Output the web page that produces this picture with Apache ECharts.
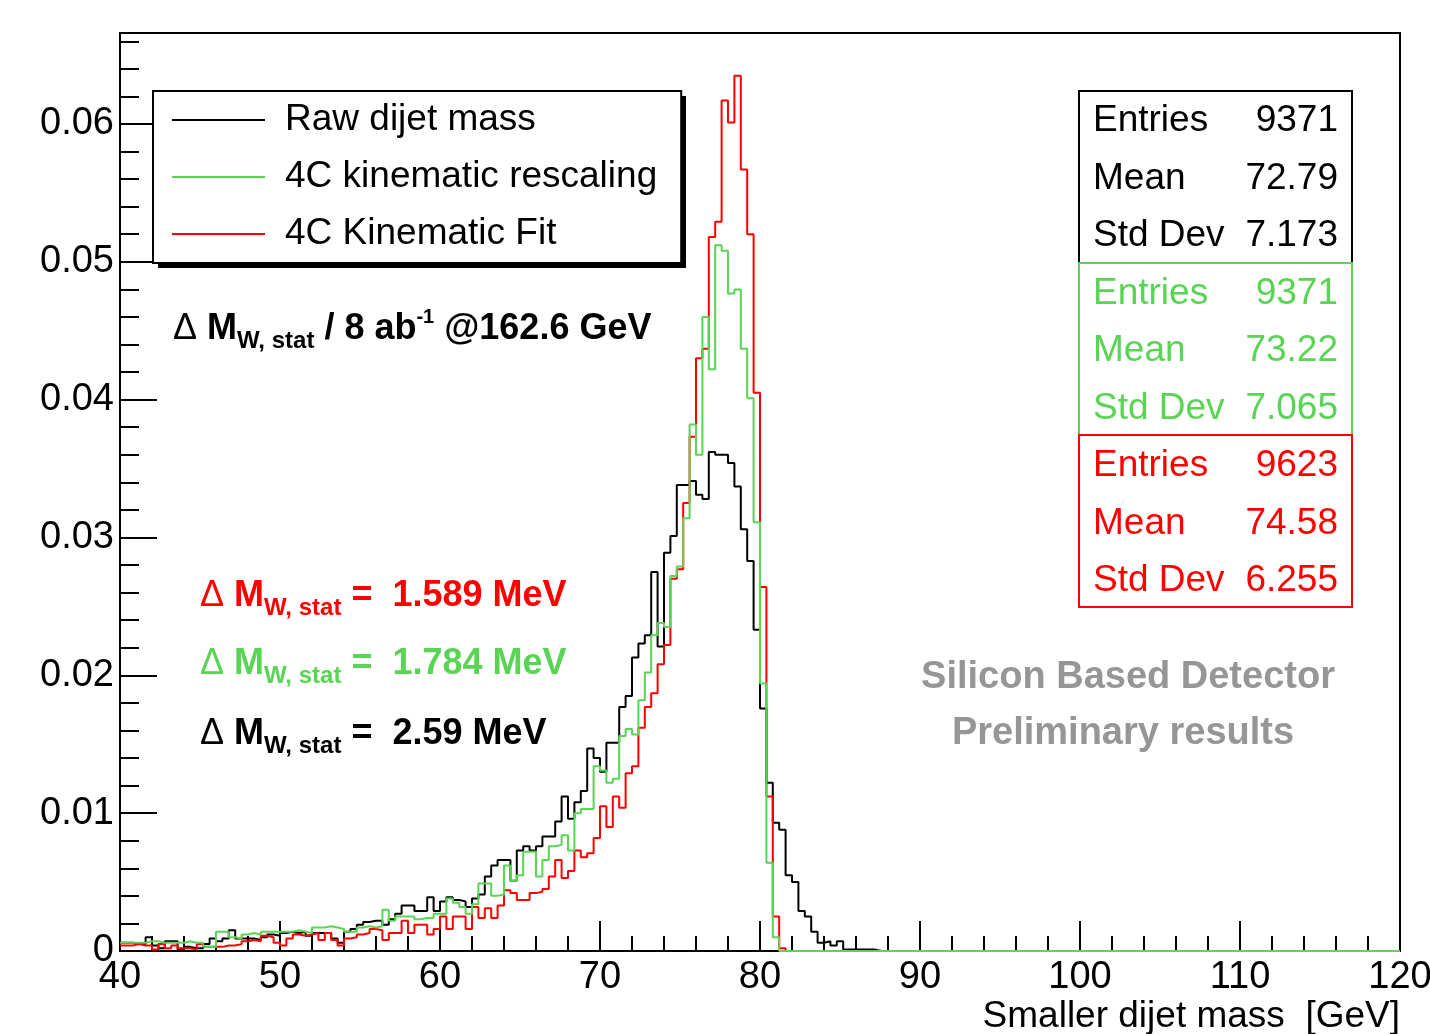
<!DOCTYPE html>
<html>
<head>
<meta charset="utf-8">
<script src="https://cdn.jsdelivr.net/npm/echarts@6/dist/echarts.min.js"></script>
<style>
html,body{margin:0;padding:0;background:#ffffff;}
#chart{width:1430px;height:1034px;}
</style>
</head>
<body>
<div id="chart"></div>
<script>
// ---- histogram binning (0.4 GeV bins from 40 to 120 GeV) ----
const binLow = 40;
const binWidth = 0.4;
const nBins = 200;

// ---- bin contents (bins 0..119 = 40..88 GeV; later bins empty) ----
const rawDijet = [
  0.0006,0.0006,0.0005,0.0005,0.0010,0.0004,0.0002,0.0007,0.0007,0.0001,
  0.0003,0.0002,0.0002,0.0005,0.0009,0.0007,0.0009,0.0015,0.0009,0.0009,
  0.0009,0.0008,0.0010,0.0012,0.0011,0.0013,0.0014,0.0013,0.0014,0.0011,
  0.0013,0.0013,0.0013,0.0009,0.0006,0.0014,0.0016,0.0019,0.0021,0.0022,
  0.0022,0.0019,0.0023,0.0027,0.0033,0.0033,0.0029,0.0029,0.0039,0.0029,
  0.0036,0.0039,0.0037,0.0036,0.0032,0.0038,0.0041,0.0054,0.0062,0.0066,
  0.0066,0.0051,0.0073,0.0076,0.0073,0.0076,0.0083,0.0083,0.0094,0.0112,
  0.0096,0.0108,0.0116,0.0147,0.0140,0.0130,0.0151,0.0151,0.0177,0.0185,
  0.0213,0.0223,0.0229,0.0275,0.0221,0.0289,0.0301,0.0338,0.0338,0.0341,
  0.0331,0.0328,0.0362,0.0360,0.0360,0.0354,0.0337,0.0306,0.0283,0.0233,
  0.0176,0.0122,0.0093,0.0088,0.0055,0.0050,0.0029,0.0025,0.0014,0.0006,
  0.0007,0.0004,0.0007,0.0001,0.0001,0.0001,0.0001,0.0001,0,0
];
const rescaled4C = [
  0.0006,0.0006,0.0006,0.0006,0.0007,0.0007,0.0006,0.0006,0.0006,0.0006,
  0.0007,0.0006,0.0006,0.0003,0.0003,0.0014,0.0014,0.0010,0.0009,0.0012,
  0.0013,0.0012,0.0014,0.0014,0.0014,0.0014,0.0014,0.0015,0.0014,0.0013,
  0.0017,0.0017,0.0018,0.0017,0.0016,0.0014,0.0014,0.0017,0.0018,0.0017,
  0.0018,0.0030,0.0022,0.0025,0.0025,0.0025,0.0023,0.0024,0.0024,0.0027,
  0.0027,0.0038,0.0035,0.0032,0.0027,0.0034,0.0049,0.0049,0.0040,0.0041,
  0.0062,0.0051,0.0055,0.0072,0.0072,0.0054,0.0066,0.0076,0.0077,0.0084,
  0.0073,0.0100,0.0103,0.0103,0.0134,0.0131,0.0122,0.0125,0.0156,0.0161,
  0.0157,0.0182,0.0202,0.0229,0.0238,0.0235,0.0272,0.0279,0.0314,0.0382,
  0.0360,0.0460,0.0422,0.0512,0.0508,0.0477,0.0480,0.0437,0.0401,0.0311,
  0.0194,0.0064,0.0010,0,0,0,0,0,0,0,
  0,0,0,0,0,0,0,0,0,0
];
const kinFit4C = [
  0.0004,0.0004,0.0005,0.0004,0.0004,0.0001,0.0005,0.0002,0.0004,0.0002,
  0.0002,0.0001,0.0005,0.0003,0.0003,0.0003,0.0004,0.0004,0.0005,0.0007,
  0.0008,0.0007,0.0011,0.0010,0.0006,0.0004,0.0009,0.0012,0.0011,0.0012,
  0.0013,0.0008,0.0013,0.0008,0.0004,0.0009,0.0010,0.0012,0.0013,0.0016,
  0.0015,0.0008,0.0013,0.0013,0.0022,0.0013,0.0019,0.0019,0.0012,0.0016,
  0.0025,0.0016,0.0025,0.0025,0.0016,0.0032,0.0024,0.0031,0.0024,0.0033,
  0.0044,0.0042,0.0037,0.0037,0.0042,0.0043,0.0045,0.0054,0.0066,0.0053,
  0.0058,0.0073,0.0068,0.0071,0.0082,0.0105,0.0090,0.0112,0.0104,0.0129,
  0.0134,0.0162,0.0177,0.0187,0.0208,0.0222,0.0270,0.0277,0.0325,0.0373,
  0.0430,0.0437,0.0518,0.0529,0.0617,0.0601,0.0635,0.0567,0.0520,0.0405,
  0.0264,0.0112,0.0025,0.0002,0,0,0,0,0,0,
  0,0,0,0,0,0,0,0,0,0
];

const seriesNames = ['Raw dijet mass', '4C kinematic rescaling', '4C Kinematic Fit'];
const seriesColors = ['#000000', '#59d454', '#ff0000'];

// ---- axis ticks ----
const xTickValues = [40, 50, 60, 70, 80, 90, 100, 110, 120];
const yTickValues = [0, 0.01, 0.02, 0.03, 0.04, 0.05, 0.06];
const xTitle = 'Smaller dijet mass  [GeV]';

// ---- statistics boxes ----
const statLabels = ['Entries', 'Mean', 'Std Dev'];
const statsRaw = ['9371', '72.79', '7.173'];
const statsRescaled = ['9371', '73.22', '7.065'];
const statsFit = ['9623', '74.58', '6.255'];

// ---- annotations ----
const resolutionValues = ['1.589 MeV', '1.784 MeV', '2.59 MeV'];
const resolutionColors = ['#ff0000', '#59d454', '#000000'];
const detectorLines = ['Silicon Based Detector', 'Preliminary results'];

const FONT = 'Liberation Sans, Arial, Helvetica, sans-serif';

function toSteps(vals) {
  const pts = [];
  for (let k = 0; k < nBins; k++) {
    pts.push([binLow + k * binWidth, k < vals.length ? vals[k] : 0]);
  }
  pts.push([binLow + nBins * binWidth, 0]);
  return pts;
}

function richStyles(color) {
  return {
    g: { fontFamily: FONT, fontSize: 36, fontWeight: 'normal', lineHeight: 44, color: color },
    b: { fontFamily: FONT, fontSize: 36, fontWeight: 'bold', lineHeight: 44, color: color },
    s: { fontFamily: FONT, fontSize: 24, fontWeight: 'bold', height: 20, verticalAlign: 'bottom', color: color },
    p: { fontFamily: FONT, fontSize: 20, fontWeight: 'bold', height: 21, verticalAlign: 'top', color: color }
  };
}

const graphics = [];

// legend shadow (ROOT style hard shadow)
graphics.push({
  type: 'rect', z: 3,
  shape: { x: 158, y: 96, width: 528, height: 172 },
  style: { fill: '#000000' }
});

// statistics boxes
const statGroups = [statsRaw, statsRescaled, statsFit];
const boxLeft = 1079, boxTop = 91, boxW = 273, boxH = 172, rowH = 57.5;
statGroups.forEach(function (vals, g) {
  graphics.push({
    type: 'rect', z: 10,
    shape: { x: boxLeft, y: boxTop + boxH * g, width: boxW, height: boxH },
    style: { fill: '#ffffff', stroke: seriesColors[g], lineWidth: 2 }
  });
});
statGroups.forEach(function (vals, g) {
  statLabels.forEach(function (lab, r) {
    const cy = 121 + rowH * (3 * g + r);
    graphics.push({
      type: 'text', z: 11, x: 1093, y: cy,
      style: { text: lab, fill: seriesColors[g], font: '37px ' + FONT, align: 'left', verticalAlign: 'middle' }
    });
    graphics.push({
      type: 'text', z: 11, x: 1338, y: cy,
      style: { text: vals[r], fill: seriesColors[g], font: '37px ' + FONT, align: 'right', verticalAlign: 'middle' }
    });
  });
});

// luminosity annotation
graphics.push({
  type: 'text', z: 11, x: 173, y: 307,
  style: {
    text: '{g|\u0394 }{b|M}{s|W, stat}{b| / 8 ab}{p|-1}{b| @162.6 GeV}',
    rich: richStyles('#000000'), align: 'left', verticalAlign: 'top', fill: '#000000'
  }
});
// resolution annotations
const resTops = [574, 642, 712];
resolutionValues.forEach(function (val, i) {
  graphics.push({
    type: 'text', z: 11, x: 200, y: resTops[i],
    style: {
      text: '{g|\u0394 }{b|M}{s|W, stat}{b| =  ' + val + '}',
      rich: richStyles(resolutionColors[i]), align: 'left', verticalAlign: 'top', fill: resolutionColors[i]
    }
  });
});
// detector labels
const detPos = [[1128, 678], [1123, 734]];
detectorLines.forEach(function (t, i) {
  graphics.push({
    type: 'text', z: 11, x: detPos[i][0], y: detPos[i][1],
    style: { text: t, fill: '#969696', font: 'bold 38px ' + FONT, align: 'center', verticalAlign: 'middle' }
  });
});
// x axis title
graphics.push({
  type: 'text', z: 11, x: 1400, y: 1017,
  style: { text: xTitle, fill: '#000000', font: '37px ' + FONT, align: 'right', verticalAlign: 'middle' }
});

const seriesData = [rawDijet, rescaled4C, kinFit4C];
const zOrder = [2, 4, 3];

const option = {
  animation: false,
  backgroundColor: '#ffffff',
  grid: {
    left: 120, right: 30, top: 33, bottom: 83,
    show: true, borderColor: '#000000', borderWidth: 2, backgroundColor: 'transparent',
    containLabel: false, outerBoundsMode: 'none'
  },
  legend: {
    data: seriesNames,
    orient: 'vertical',
    left: 153, top: 91,
    icon: 'rect',
    itemWidth: 93, itemHeight: 2, itemGap: 17,
    padding: [9, 24, 9, 19],
    backgroundColor: '#ffffff',
    borderColor: '#000000', borderWidth: 2, borderRadius: 0,
    selectedMode: false,
    z: 4,
    textStyle: { fontFamily: FONT, fontSize: 37, color: '#000000', lineHeight: 40, padding: [0, 0, 0, 15] }
  },
  xAxis: {
    type: 'value', min: 40, max: 120, interval: 10,
    axisLine: { show: true, onZero: false, lineStyle: { color: '#000000', width: 2 } },
    axisTick: { show: true, inside: true, length: 30, lineStyle: { color: '#000000', width: 2 } },
    minorTick: { show: true, splitNumber: 5, length: 15, lineStyle: { color: '#000000', width: 2 } },
    splitLine: { show: false },
    minorSplitLine: { show: false },
    axisLabel: {
      fontFamily: FONT, fontSize: 38, color: '#000000', margin: 8,
      formatter: function (v) { return xTickValues.indexOf(Math.round(v)) >= 0 ? String(Math.round(v)) : ''; }
    }
  },
  yAxis: [
    {
      type: 'value', min: 0, max: 0.0666, interval: 0.01,
      axisLine: { show: true, onZero: false, lineStyle: { color: '#000000', width: 2 } },
      axisTick: { show: true, inside: true, length: 37, lineStyle: { color: '#000000', width: 2 } },
      splitLine: { show: false },
      axisLabel: {
        fontFamily: FONT, fontSize: 38, color: '#000000', margin: 6, showMaxLabel: false,
        padding: [4, 0, 0, 0],
        formatter: function (v) {
          const t = yTickValues.find(function (q) { return Math.abs(q - v) < 1e-9; });
          if (t === undefined) return '';
          return t === 0 ? '0' : t.toFixed(2);
        }
      }
    },
    {
      type: 'value', min: 0, max: 0.0666, interval: 0.002, position: 'left', offset: 0,
      axisLine: { show: false },
      axisTick: { show: true, inside: true, length: 19, lineStyle: { color: '#000000', width: 2 } },
      splitLine: { show: false },
      axisLabel: { show: false }
    }
  ],
  series: seriesData.map(function (vals, i) {
    return {
      type: 'line', name: seriesNames[i], data: toSteps(vals), step: 'end',
      yAxisIndex: 0, symbol: 'none', showSymbol: false, clip: false, silent: true,
      z: zOrder[i],
      lineStyle: { color: seriesColors[i], width: 2 },
      itemStyle: { color: seriesColors[i] }
    };
  }),
  graphic: graphics
};

const chart = echarts.init(document.getElementById('chart'), null, { renderer: 'canvas' });
chart.setOption(option);
</script>
</body>
</html>
